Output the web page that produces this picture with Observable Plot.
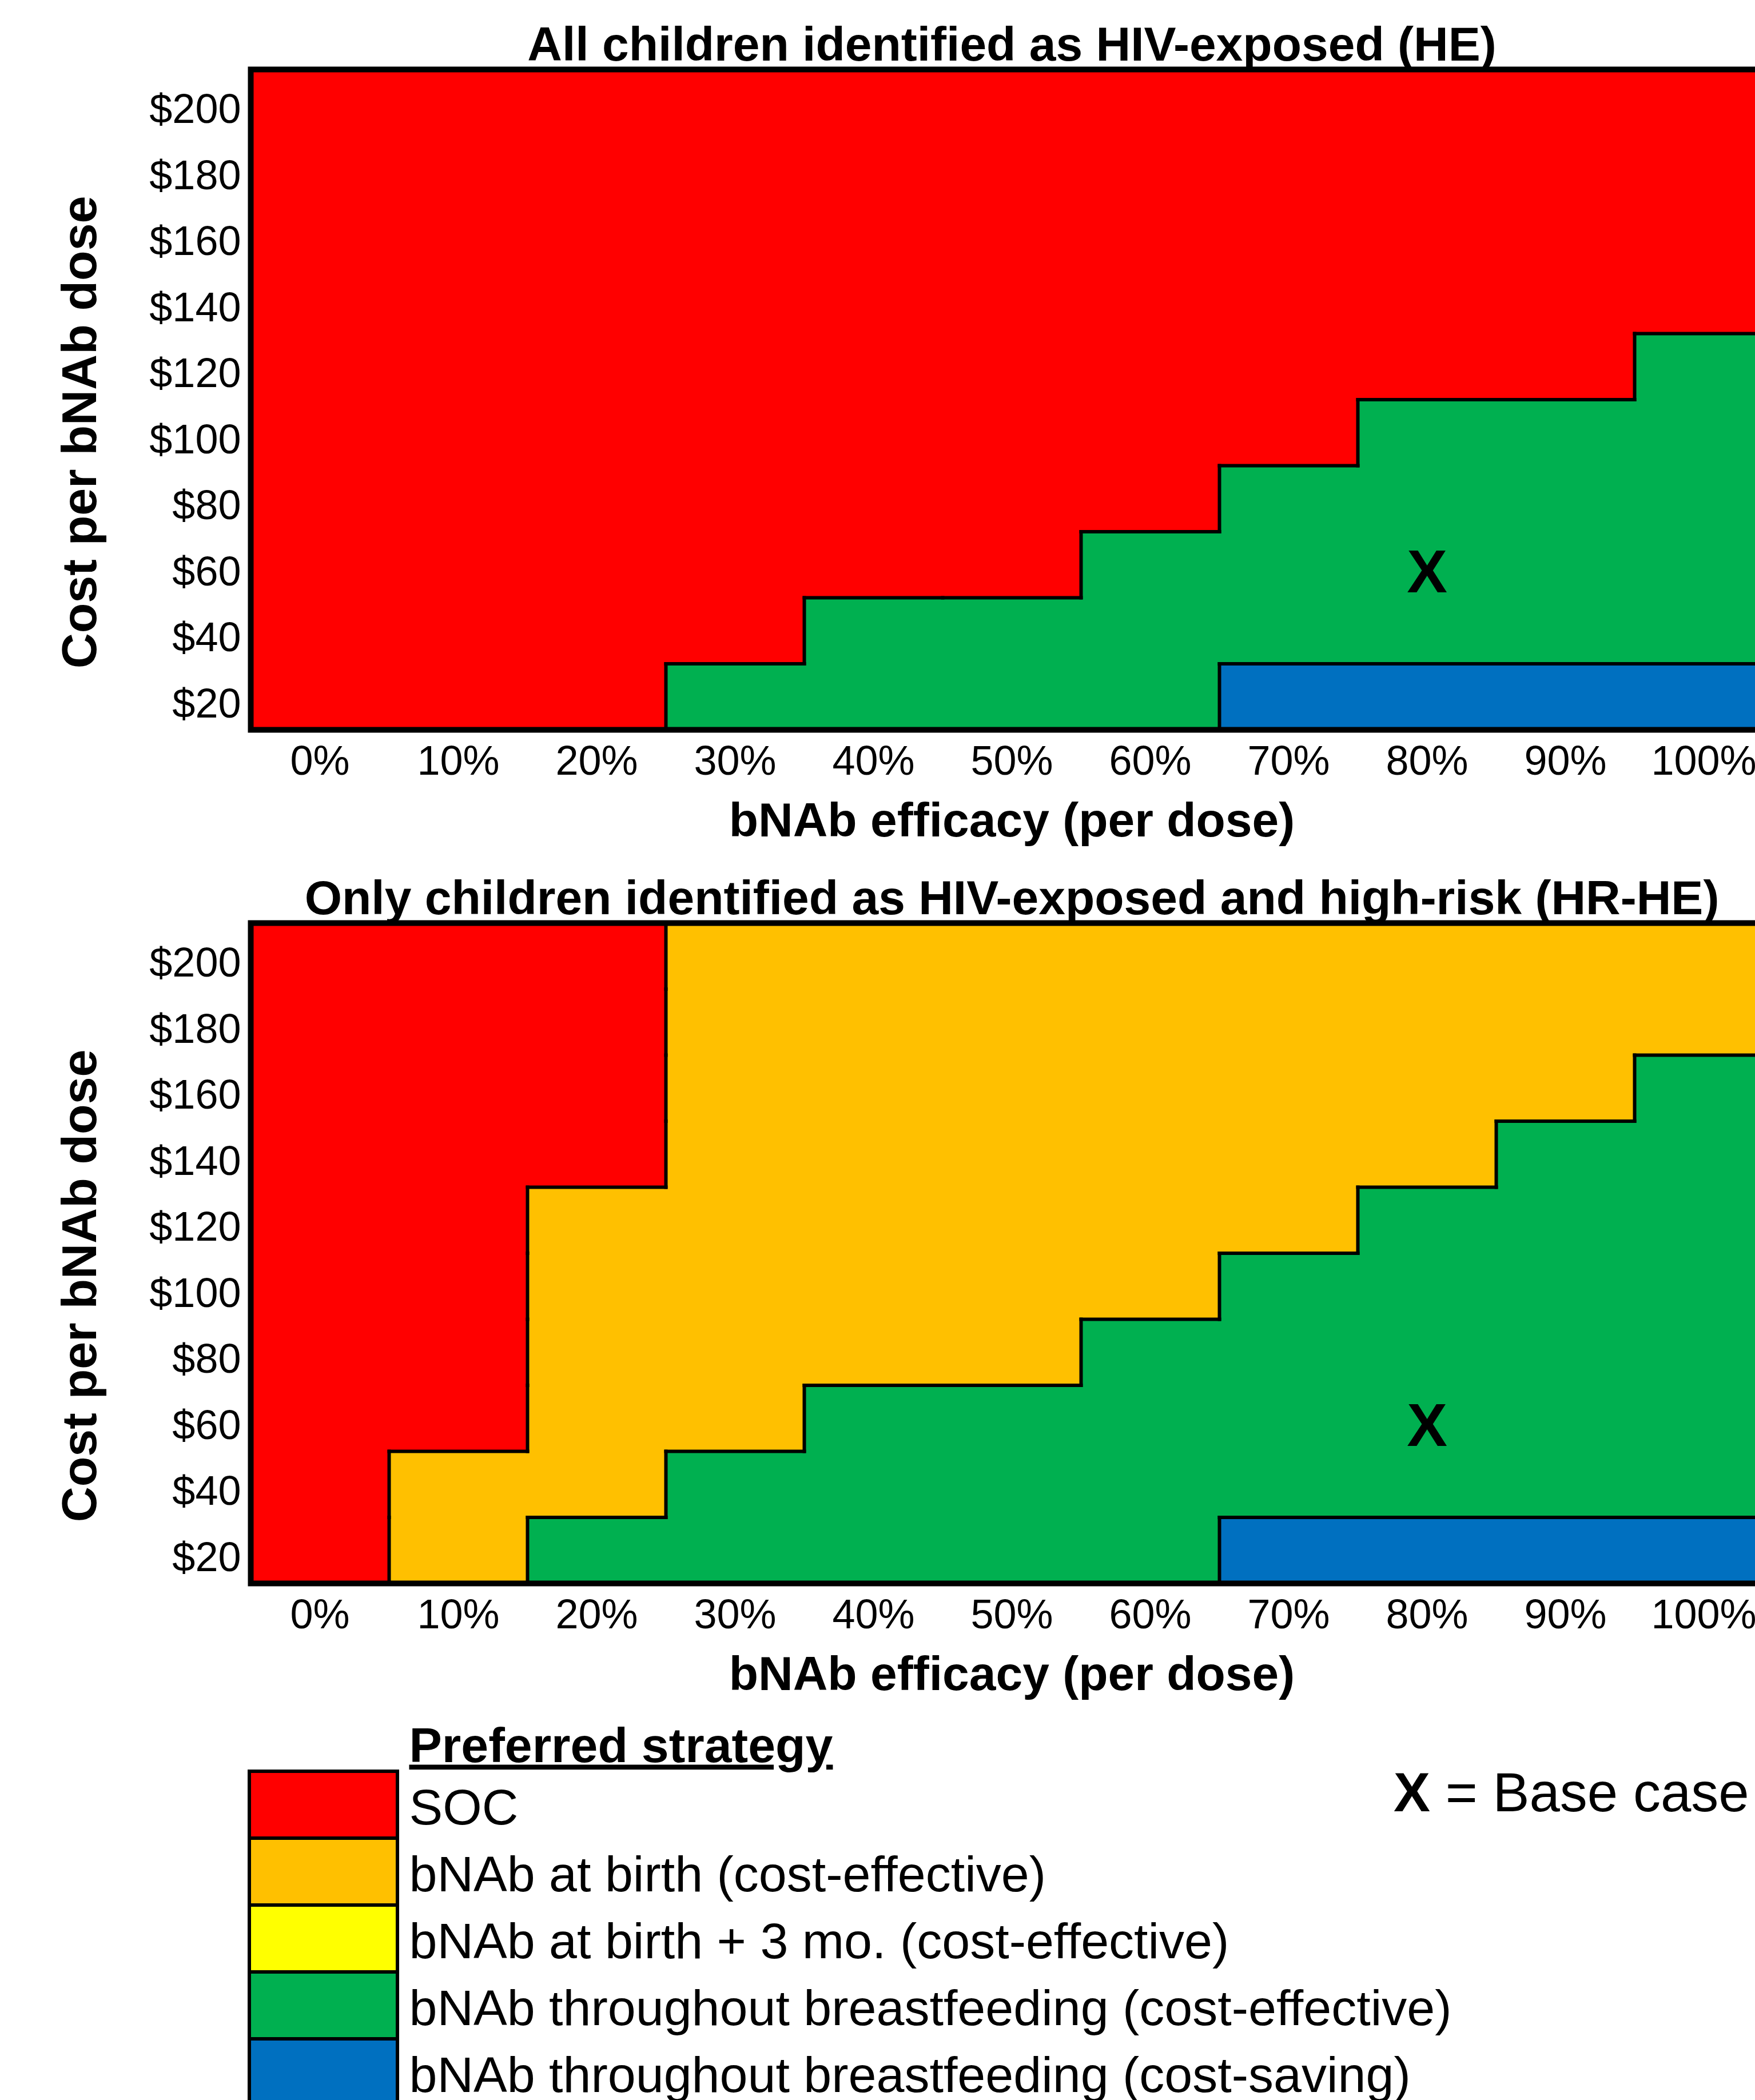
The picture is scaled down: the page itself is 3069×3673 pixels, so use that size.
<!DOCTYPE html>
<html>
<head>
<meta charset="utf-8">
<script src="https://cdn.jsdelivr.net/npm/d3@7"></script>
<script src="https://cdn.jsdelivr.net/npm/@observablehq/plot@0.6"></script>
<style>
  html, body { margin: 0; padding: 0; background: #fff; overflow: hidden; }
  body { width: 3069px; height: 3673px; position: relative; font-family: "Liberation Sans", Arial, sans-serif; }
  .blk { position: absolute; left: 0; width: 3110px; }
  .blk svg { max-width: none !important; }
  #basecase { position: absolute; left: 2437px; top: 3087px; font-size: 96px; line-height: 96px; white-space: nowrap; color: #000; }
</style>
</head>
<body>
<div id="p1" class="blk" style="top:0px"></div>
<div id="p2" class="blk" style="top:1493px"></div>
<div id="lg" class="blk" style="top:2986px"></div>
<div id="basecase"><b>X</b> = Base case</div>
<script>
// ---- data ----
const categories = [
  "SOC",
  "bNAb at birth (cost-effective)",
  "bNAb at birth + 3 mo. (cost-effective)",
  "bNAb throughout breastfeeding (cost-effective)",
  "bNAb throughout breastfeeding (cost-saving)"
];
const colors = ["#FF0000", "#FFC000", "#FFFF00", "#00B050", "#0070C0"];
const codes = ["R", "O", "Y", "G", "B"]; // one letter per category

const efficacy = [0, 10, 20, 30, 40, 50, 60, 70, 80, 90, 100];      // %
const costs = [200, 180, 160, 140, 120, 100, 80, 60, 40, 20];         // $ per dose, rows top -> bottom

// Preferred strategy grid, rows = costs (top to bottom), columns = efficacy
const gridHE = [
  "RRRRRRRRRRR",
  "RRRRRRRRRRR",
  "RRRRRRRRRRR",
  "RRRRRRRRRRR",
  "RRRRRRRRRRG",
  "RRRRRRRRGGG",
  "RRRRRRRGGGG",
  "RRRRRRGGGGG",
  "RRRRGGGGGGG",
  "RRRGGGGBBBB"
];
const gridHRHE = [
  "RRROOOOOOOO",
  "RRROOOOOOOO",
  "RRROOOOOOOG",
  "RRROOOOOOGG",
  "RROOOOOOGGG",
  "RROOOOOGGGG",
  "RROOOOGGGGG",
  "RROOGGGGGGG",
  "ROOGGGGGGGG",
  "ROGGGGGBBBB"
];
const baseCase = [{efficacy: 80, cost: 60}];

const titleHE = "All children identified as HIV-exposed (HE)";
const titleHRHE = "Only children identified as HIV-exposed and high-risk (HR-HE)";
const xLabel = "bNAb efficacy (per dose)";
const yLabel = "Cost per bNAb dose";
const legendTitle = "Preferred strategy";

// ---- build ----
const FONT = '"Liberation Sans", Arial, Helvetica, sans-serif';
const hx = (efficacy[1] - efficacy[0]) / 2;
const hy = (costs[0] - costs[1]) / 2;
const cat = ch => categories[codes.indexOf(ch)];

function buildCells(grid) {
  const cells = [];
  grid.forEach((row, i) => [...row].forEach((ch, j) => cells.push({eff: efficacy[j], cost: costs[i], strategy: cat(ch)})));
  return cells;
}
function buildEdges(grid) {
  const edges = [];
  grid.forEach((row, i) => [...row].forEach((ch, j) => {
    const e = efficacy[j], c = costs[i];
    if (j + 1 < row.length && row[j + 1] !== ch) edges.push({x1: e + hx, x2: e + hx, y1: c - hy, y2: c + hy});
    if (i + 1 < grid.length && grid[i + 1][j] !== ch) edges.push({x1: e - hx, x2: e + hx, y1: c - hy, y2: c - hy});
  }));
  return edges;
}

function panel(title, grid) {
  const W = 3110, H = 1493, mt = 121, ph = 1155;
  return Plot.plot({
    width: W, height: H,
    marginLeft: 438, marginRight: 10, marginTop: mt, marginBottom: H - mt - ph,
    x: {domain: [d3.min(efficacy) - hx, d3.max(efficacy) + hx]},
    y: {domain: [d3.min(costs) - hy, d3.max(costs) + hy]},
    color: {domain: categories, range: colors},
    style: {fontFamily: FONT, fontSize: "72px", color: "#000", background: "transparent", overflow: "visible", maxWidth: "none"},
    marks: [
      Plot.rect(buildCells(grid), {
        x1: d => d.eff - hx, x2: d => d.eff + hx,
        y1: d => d.cost - hy, y2: d => d.cost + hy,
        fill: "strategy", shapeRendering: "crispEdges"
      }),
      Plot.link(buildEdges(grid), {x1: "x1", y1: "y1", x2: "x2", y2: "y2", stroke: "#000", strokeWidth: 6, strokeLinecap: "square"}),
      Plot.text(baseCase, {x: "efficacy", y: "cost", text: () => "X", fontSize: 106, fontWeight: "bold", dy: 14, fill: "#000"}),
      Plot.frame({stroke: "#000", strokeWidth: 10}),
      Plot.axisX({ticks: efficacy, tickFormat: d => d + "%", tickSize: 0, tickPadding: 27, fontSize: 72, label: null}),
      Plot.axisY({ticks: costs, tickFormat: d => "$" + d, tickSize: 0, tickPadding: 17, fontSize: 72, label: null, dy: 13}),
      Plot.text([title], {frameAnchor: "top", textAnchor: "middle", lineAnchor: "bottom", dy: -16, fontSize: 84, fontWeight: "bold", fill: "#000"}),
      Plot.text([xLabel], {frameAnchor: "bottom", textAnchor: "middle", lineAnchor: "bottom", dy: 186, fontSize: 84, fontWeight: "bold", fill: "#000"}),
      Plot.text([yLabel], {frameAnchor: "left", textAnchor: "middle", rotate: -90, lineAnchor: "bottom", dx: -271, dy: 57, fontSize: 86, fontWeight: "bold", fill: "#000"})
    ]
  });
}

document.getElementById("p1").append(panel(titleHE, gridHE));
document.getElementById("p2").append(panel(titleHRHE, gridHRHE));

const legend = Plot.plot({
  width: 3069, height: 697,
  marginLeft: 436, marginRight: 3069 - 695, marginTop: 112, marginBottom: 0,
  x: {domain: ["swatch"], axis: null, padding: 0},
  y: {domain: categories, axis: null, padding: 0},
  color: {domain: categories, range: colors},
  style: {fontFamily: FONT, fontSize: "88px", color: "#000", background: "transparent", overflow: "visible", maxWidth: "none"},
  marks: [
    Plot.cell(categories, {x: () => "swatch", y: d => d, fill: d => d, stroke: "#000", strokeWidth: 6}),
    Plot.text(categories, {y: d => d, frameAnchor: "right", textAnchor: "start", dx: 20, dy: 6, fontSize: 88, fill: "#000"}),
    Plot.text([legendTitle], {frameAnchor: "top-right", textAnchor: "start", lineAnchor: "bottom", dx: 20, dy: -17, fontSize: 86, fontWeight: "bold", fill: "#000"})
  ]
});
legend.querySelectorAll("text").forEach(t => {
  if (t.textContent === legendTitle) t.style.textDecoration = "underline";
});
document.getElementById("lg").append(legend);
</script>
</body>
</html>
